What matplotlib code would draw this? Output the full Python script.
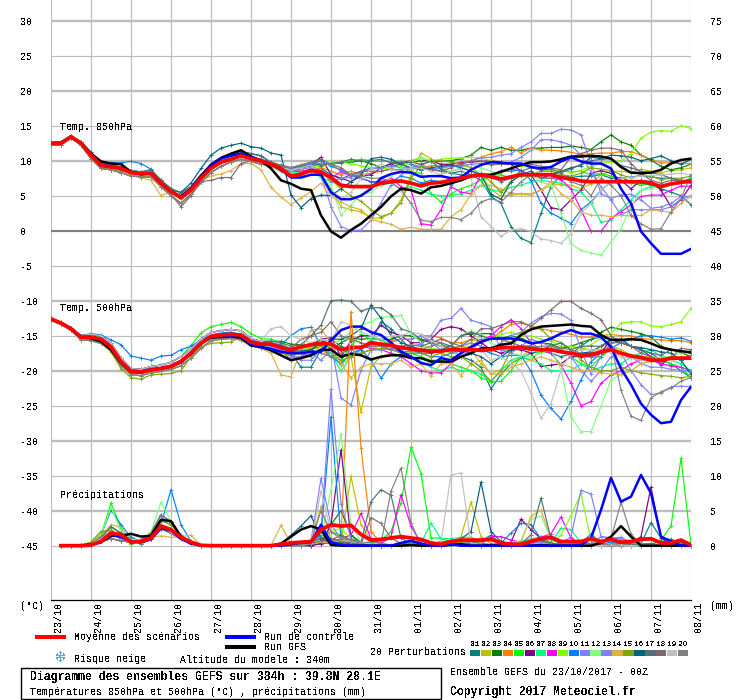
"""GEFS ensemble diagram (Meteociel style): T850, T500 and precipitation."""

import numpy as np
import matplotlib
matplotlib.use('Agg')
import matplotlib.pyplot as plt
from matplotlib.patches import Rectangle
from matplotlib.transforms import ScaledTranslation

plt.rcParams['font.family'] = ['Liberation Mono', 'DejaVu Sans']
plt.rcParams['text.antialiased'] = False

# =============================================================================
# DATA (6-hourly, index 0 = 23/10 00Z, index 64 = 08/11 00Z)
# =============================================================================

date_labels = ['23/10', '24/10', '25/10', '26/10', '27/10', '28/10', '29/10', '30/10', '31/10',
               '01/11', '02/11', '03/11', '04/11', '05/11', '06/11', '07/11', '08/11']
left_ticks = [30, 25, 20, 15, 10, 5, 0, -5, -10, -15, -20, -25, -30, -35, -40, -45]
right_ticks = [75, 70, 65, 60, 55, 50, 45, 40, 35, 30, 25, 20, 15, 10, 5, 0]
member_colors = ['#008080', '#C0C000', '#008000', '#FF8000', '#00FF00', '#800080', '#00FF80',
                 '#FF00FF', '#80FF00', '#0080FF', '#8080FF', '#80FF80', '#8080FF', '#E0B040',
                 '#80A800', '#006080', '#507078', '#806870', '#C0C0C0', '#808080']

# --- 850 hPa ---
t850_mean = [12.5, 12.5, 13.4, 12.5, 10.8, 9.3, 9.1, 8.9, 8.3, 8.1, 8.2, 6.8, 5.6, 4.7, 5.8, 7.5, 8.9, 9.8, 10.2, 10.7, 10.3, 10.0,
             9.5, 8.9, 7.8, 8.1, 8.6, 8.4, 7.6, 6.5, 6.3, 6.3, 6.3,
             6.8, 7.0, 7.1, 6.8, 6.4, 6.8, 6.9, 7.2, 7.5, 7.8, 8.0,
             7.7, 7.4, 7.7, 8.0, 8.0, 8.0, 8.0, 7.6, 7.4, 7.1, 7.0,
             7.0, 7.0, 7.0, 7.0, 7.0, 6.8, 6.3, 6.7, 6.9, 7.1]
t850_ctrl = [12.5, 12.5, 13.4, 12.5, 10.8, 9.4, 9.2, 8.9, 8.3, 8.1, 8.2, 6.8, 5.6, 4.8, 6.0, 7.8, 9.3, 10.3, 10.7, 11.0, 10.5, 10.1,
             9.5, 8.7, 7.6, 7.6, 8.0, 8.0, 5.5, 4.5, 4.5, 5.0, 6.0,
             7.5, 8.1, 8.4, 8.3, 7.7, 7.8, 7.8, 7.5, 7.6, 8.7, 9.4,
             9.8, 9.7, 9.6, 9.6, 9.1, 8.9, 9.1, 9.9, 10.5, 9.9, 9.6,
             9.6, 8.9, 6.0, 3.9, -0.1, -1.8, -3.3, -3.3, -3.3, -2.6]
t850_gfs = [12.5, 12.5, 13.4, 12.5, 11.0, 9.9, 9.6, 9.5, 8.4, 8.1, 8.2, 6.8, 5.6, 4.9, 6.0, 7.8, 9.4, 10.4, 11.0, 11.5, 10.6, 10.0,
            8.9, 7.2, 6.7, 6.0, 5.8, 2.2, -0.1, -1.0, 0.1, 1.0, 2.2,
            3.4, 4.9, 6.0, 5.8, 5.3, 6.2, 6.4, 6.8, 7.2, 7.8, 8.0,
            8.0, 8.4, 8.9, 9.4, 9.8, 9.8, 9.9, 10.2, 10.6, 10.6, 10.7,
            10.6, 10.3, 9.1, 8.3, 8.2, 8.3, 8.7, 9.6, 10.1, 10.3]

t850_early_mid = [12.5, 12.5, 13.4, 12.5, 10.8, 9.3, 9.1, 8.9, 8.3, 8.1, 8.2, 6.8, 5.6, 4.7, 5.8, 7.5, 8.9, 9.8, 10.2, 10.7, 10.3, 10.0]
t850_early_hi = [12.6, 12.7, 13.6, 12.7, 11.2, 9.7, 9.4, 9.1, 8.6, 8.4, 8.7, 7.2, 6.0, 5.4, 6.3, 8.0, 9.5, 10.4, 10.9, 11.3, 11.0, 10.7]
t850_early_lo = [12.3, 12.3, 13.3, 12.2, 10.3, 8.9, 8.7, 8.3, 7.8, 7.7, 7.7, 6.3, 5.0, 3.9, 5.2, 6.9, 8.3, 9.2, 9.8, 10.2, 9.9, 9.5]
t850_early_10 = [12.6, 12.7, 13.5, 12.5, 10.6, 9.6, 9.7, 9.7, 9.9, 9.6, 8.8, 6.9, 5.5, 4.8, 6.0, 7.8, 9.2, 10.0, 10.4, 10.8, 10.4, 10.0]
t850_early_14 = [12.7, 12.6, 13.6, 12.4, 10.7, 9.2, 9.0, 8.4, 8.0, 7.6, 7.2, 5.0, 5.6, 4.5, 5.6, 7.2, 7.8, 8.1, 8.6, 9.6, 9.6, 8.7]
t850_early_18 = [12.2, 12.2, 13.4, 12.5, 10.8, 9.2, 9.0, 8.6, 8.2, 8.0, 8.0, 6.5, 5.2, 3.4, 5.0, 7.0, 7.2, 7.6, 7.6, 9.6, 10.0, 9.8]
t850_early_16 = [12.5, 12.6, 13.4, 12.5, 10.9, 9.4, 9.2, 9.0, 8.4, 8.3, 8.4, 7.0, 5.8, 5.5, 6.8, 8.9, 10.8, 11.8, 12.2, 12.5, 12.0, 11.8]
t850_early = [t850_early_mid, t850_early_lo, t850_early_hi, t850_early_mid, t850_early_hi, t850_early_mid, t850_early_lo,
              t850_early_lo, t850_early_mid, t850_early_10, t850_early_hi, t850_early_mid, t850_early_mid, t850_early_14,
              t850_early_lo, t850_early_16, t850_early_hi, t850_early_18, t850_early_mid, t850_early_lo]

t850_late = [
    [9.6, 8.9, 8.2, 8.3, 8.5, 8.9, 8.0, 7.4, 8.0, 8.4, 9.0, 9.0, 9.6, 9.8, 9.5, 9.0, 8.8, 8.5, 8.2, 8.5, 8.0, 7.2, 4.9, 3.9, 0.6, -1.1, -1.7, 2.5, 6.3, 8.0, 7.6, 7.8, 7.8, 8.0, 7.5, 7.6, 7.0, 6.8, 6.5, 6.0, 5.5, 5.0, 3.7],
    [9.3, 8.5, 8.0, 8.2, 8.5, 7.8, 6.0, 3.4, 3.0, 2.7, 1.8, 1.8, 2.5, 4.4, 8.0, 11.1, 10.3, 9.4, 9.3, 9.0, 8.6, 8.0, 5.9, 4.9, 5.1, 5.2, 5.1, 5.8, 6.5, 6.6, 6.5, 6.0, 6.7, 8.0, 8.5, 8.5, 8.3, 8.8, 8.5, 8.3, 8.6, 8.7, 9.0],
    [9.8, 9.2, 8.8, 9.0, 9.3, 9.5, 9.5, 9.7, 9.8, 10.0, 9.6, 9.0, 9.2, 9.5, 9.8, 10.0, 10.0, 9.9, 10.0, 10.3, 10.8, 11.9, 11.5, 11.9, 11.5, 11.5, 11.8, 11.8, 11.9, 11.9, 12.1, 11.9, 11.6, 12.7, 13.7, 12.7, 12.2, 10.8, 10.1, 9.2, 8.7, 9.0, 9.5],
    [9.5, 8.9, 8.5, 8.5, 8.8, 9.0, 8.5, 8.0, 8.5, 8.0, 8.2, 8.5, 8.8, 8.6, 9.0, 9.0, 9.3, 9.3, 9.5, 9.8, 10.0, 10.5, 11.0, 11.3, 11.9, 11.1, 11.8, 11.5, 11.5, 11.4, 11.2, 10.9, 11.0, 11.1, 11.1, 11.3, 11.3, 10.8, 10.2, 9.7, 9.7, 9.6, 9.6],
    [9.7, 9.0, 8.7, 9.0, 9.5, 9.6, 9.5, 9.8, 10.0, 10.2, 10.0, 9.9, 9.9, 9.9, 8.4, 8.2, 5.3, 4.1, 5.3, 6.0, 6.5, 7.2, 7.8, 8.0, 7.5, 7.8, 7.8, 8.0, 8.0, 8.5, 8.4, 8.5, 8.0, 8.2, 7.8, 7.2, 6.8, 6.5, 6.8, 6.2, 6.5, 7.0, 6.8],
    [9.4, 8.8, 8.5, 8.8, 9.5, 10.5, 8.0, 7.5, 7.0, 7.8, 8.0, 9.0, 9.6, 9.7, 10.0, 10.2, 9.9, 9.5, 9.5, 9.7, 9.8, 9.9, 10.0, 9.8, 9.5, 8.5, 8.0, 5.8, 3.3, 3.0, 4.4, 5.8, 8.2, 8.6, 8.2, 7.2, 6.0, 7.2, 7.0, 5.8, 3.4, 4.4, 6.5],
    [9.5, 8.8, 8.3, 8.5, 8.6, 7.6, 7.0, 6.5, 6.5, 6.3, 6.5, 6.5, 6.8, 6.0, 6.3, 5.8, 5.2, 5.0, 5.0, 5.3, 5.8, 6.5, 5.8, 5.6, 6.2, 6.5, 7.0, 7.2, 7.0, 6.8, 6.0, 5.5, 4.0, 1.2, 1.5, 3.0, 4.4, 5.8, 6.3, 6.5, 6.8, 7.0, 7.5],
    [9.5, 9.0, 8.5, 8.5, 8.7, 8.0, 7.6, 8.4, 7.8, 7.5, 7.0, 7.0, 7.5, 6.3, 5.8, 1.0, 0.8, 3.0, 6.3, 5.5, 5.3, 8.0, 7.9, 8.6, 8.8, 8.5, 8.0, 7.6, 7.5, 7.3, 6.0, 3.0, -0.1, -0.1, 1.8, 2.7, 3.7, 4.9, 5.1, 5.1, 5.8, 6.4, 6.3],
    [9.6, 9.0, 8.6, 8.8, 9.1, 9.2, 9.7, 9.9, 9.5, 9.3, 9.0, 8.8, 9.0, 9.3, 10.0, 10.5, 10.0, 10.2, 10.4, 10.4, 10.5, 10.4, 10.0, 9.6, 9.5, 9.3, 9.0, 8.7, 8.5, 8.6, 8.3, 8.6, 9.2, 9.6, 9.8, 10.0, 11.0, 13.2, 14.1, 14.3, 14.2, 15.0, 14.6],
    [9.8, 9.3, 8.9, 9.2, 9.5, 10.0, 9.2, 8.7, 8.0, 7.5, 7.0, 6.5, 7.0, 7.8, 7.5, 6.8, 7.2, 7.0, 6.5, 7.5, 8.0, 8.0, 8.0, 8.5, 8.5, 8.7, 7.2, 3.9, 2.5, 1.8, 1.0, 3.0, 4.1, 5.8, 7.0, 7.5, 7.7, 7.8, 7.7, 7.5, 7.5, 7.2, 6.8],
    [9.8, 9.3, 8.8, 9.0, 9.3, 8.5, 7.0, 7.5, 7.6, 8.3, 8.8, 9.0, 9.3, 9.0, 9.0, 9.2, 8.7, 8.9, 9.2, 9.5, 10.0, 10.4, 10.5, 10.8, 11.0, 11.9, 12.7, 13.9, 13.9, 14.5, 14.4, 13.7, 9.6, 5.3, 4.6, 5.1, 5.2, 4.4, 3.2, 3.4, 3.9, 4.9, 4.9],
    [9.4, 8.7, 8.2, 8.3, 8.5, 7.5, 6.5, 2.2, 3.7, 5.2, 5.5, 6.5, 7.8, 9.0, 9.8, 10.3, 10.0, 9.0, 8.5, 9.0, 9.5, 9.0, 8.5, 7.5, 7.5, 8.0, 8.0, 7.0, 6.5, 2.5, -1.9, -2.8, -3.2, -3.5, -1.6, 0.3, 3.4, 5.8, 6.0, 6.5, 6.5, 7.0, 7.2],
    [9.7, 9.0, 8.5, 8.8, 9.0, 8.0, 3.4, 0.6, 0.0, 0.1, 1.5, 4.0, 6.5, 8.0, 9.0, 9.5, 8.8, 9.0, 9.3, 9.3, 9.5, 9.6, 9.4, 9.5, 9.8, 10.5, 11.5, 13.0, 13.0, 12.7, 12.2, 10.8, 8.4, 6.3, 4.4, 2.2, 3.0, 3.0, 3.0, 3.0, 3.4, 4.5, 5.0],
    [6.2, 4.8, 3.7, 4.7, 5.6, 6.8, 4.9, 4.1, 3.4, 3.0, 1.6, 1.3, 0.9, 0.2, 0.5, 0.2, 0.2, 0.2, 2.0, 3.0, 5.2, 6.5, 6.5, 6.0, 5.3, 5.3, 5.3, 5.8, 7.0, 5.3, 4.4, 2.7, 2.2, 2.2, 2.0, 2.2, 2.1, 2.2, 3.0, 2.8, 2.6, 3.9, 4.9],
    [9.2, 8.5, 8.0, 8.0, 8.5, 8.2, 7.3, 6.0, 5.0, 4.2, 3.0, 2.0, 2.5, 4.0, 7.5, 9.3, 10.0, 10.0, 9.8, 9.5, 9.0, 8.0, 7.0, 5.5, 7.0, 8.0, 8.0, 8.5, 8.5, 8.0, 7.8, 8.2, 9.0, 8.8, 8.6, 8.0, 7.5, 8.0, 7.8, 7.3, 7.5, 7.5, 7.8],
    [11.1, 10.8, 5.1, 3.3, 4.6, 5.1, 5.0, 6.0, 7.0, 8.0, 10.3, 10.5, 10.2, 9.5, 9.0, 8.7, 9.0, 9.2, 9.4, 9.0, 8.5, 8.0, 5.2, 4.5, 7.0, 8.0, 8.5, 7.5, 8.0, 8.5, 9.0, 9.3, 10.5, 10.3, 10.8, 10.7, 10.5, 10.0, 10.3, 10.7, 10.0, 9.5, 10.2],
    [9.6, 9.4, 9.0, 9.3, 9.7, 9.3, 9.6, 9.8, 10.2, 9.9, 10.0, 10.2, 9.7, 9.7, 9.8, 9.5, 9.9, 8.8, 8.2, 8.0, 8.0, 8.2, 7.7, 7.0, 7.5, 8.5, 9.0, 8.7, 8.8, 8.3, 8.8, 9.5, 10.0, 10.2, 10.3, 9.3, 9.0, 8.5, 8.3, 8.0, 7.5, 7.0, 7.0],
    [9.8, 9.3, 9.0, 9.4, 9.8, 10.2, 9.5, 9.0, 8.0, 8.5, 8.5, 8.5, 8.8, 8.7, 8.9, 9.0, 8.7, 8.5, 9.0, 9.5, 9.9, 10.0, 9.5, 9.5, 9.5, 9.5, 9.5, 9.2, 9.0, 8.7, 10.5, 11.0, 11.5, 11.8, 11.8, 11.5, 9.6, 8.2, 7.2, 6.8, 7.2, 7.2, 7.2],
    [9.5, 9.0, 8.7, 9.0, 9.4, 8.0, 5.0, 4.5, 5.5, 7.5, 8.8, 9.5, 8.7, 8.6, 9.0, 8.9, 8.5, 8.0, 8.5, 8.8, 7.5, 2.0, 0.6, -0.8, 0.1, 0.3, -0.1, -1.2, -1.4, -1.8, -0.4, 2.5, 3.9, 5.8, 7.0, 7.5, 7.6, 7.8, 7.9, 8.0, 8.1, 8.2, 8.0],
    [9.6, 9.2, 9.0, 9.4, 9.7, 9.6, 9.5, 8.5, 8.0, 7.8, 7.5, 7.5, 7.0, 5.8, 3.9, 1.5, 1.3, 1.9, 1.9, 1.6, 2.5, 4.1, 4.6, 4.1, 5.5, 7.0, 8.0, 7.5, 7.5, 7.8, 7.0, 6.5, 5.0, 7.5, 6.5, 5.0, 2.2, 1.0, 0.2, 0.3, 2.7, 4.6, 8.0],
]

# --- 500 hPa ---
t500_mean = [-12.6, -13.2, -14.0, -15.2, -15.2, -15.5, -16.6, -18.7, -20.1, -20.2, -19.9, -19.7, -19.4, -18.7, -17.5, -16.1, -15.1, -14.9, -14.8, -14.9, -15.9, -16.2,
             -16.2, -16.7, -17.0, -16.6, -16.3, -16.1, -16.2, -17.0, -16.7, -16.7, -16.0,
             -16.2, -16.4, -16.7, -16.9, -17.1, -17.2, -17.2, -17.0, -17.0, -17.0, -17.1,
             -17.0, -16.7, -16.7, -16.7, -16.9, -17.0, -17.0, -17.3, -17.5, -17.8, -17.7,
             -17.3, -17.0, -17.5, -17.9, -18.1, -18.5, -18.5, -18.2, -18.2, -18.2]
t500_ctrl = [-12.6, -13.2, -14.0, -15.2, -15.2, -15.5, -16.6, -18.7, -20.0, -20.1, -19.8, -19.6, -19.3, -18.6, -17.4, -16.0, -15.2, -15.1, -15.0, -15.1, -16.2, -16.6,
             -16.9, -17.3, -17.5, -17.5, -17.3, -17.3, -15.7, -14.2, -13.7, -13.7, -14.5,
             -14.9, -16.0, -17.3, -18.0, -18.9, -19.2, -18.2, -18.5, -17.5, -16.6, -15.9,
             -15.4, -15.4, -15.4, -15.6, -16.1, -15.9, -15.4, -14.7, -14.2, -14.7, -14.7,
             -15.2, -16.6, -19.7, -22.0, -24.7, -26.3, -27.5, -27.3, -24.2, -22.3]
t500_gfs = [-12.6, -13.2, -14.0, -15.2, -15.4, -15.8, -17.0, -18.9, -20.2, -20.3, -19.9, -19.7, -19.4, -18.8, -17.6, -16.1, -15.3, -15.2, -15.1, -15.3, -16.4, -16.6,
            -17.1, -17.8, -18.5, -18.2, -17.8, -17.0, -17.0, -18.0, -17.6, -17.8, -18.4,
            -18.0, -17.8, -17.8, -18.2, -18.2, -18.7, -18.7, -18.7, -18.0, -17.5, -16.8,
            -16.8, -16.3, -16.1, -14.9, -14.1, -13.7, -13.6, -13.5, -13.4, -13.6, -13.7,
            -14.9, -15.6, -15.6, -15.5, -15.6, -16.1, -16.7, -17.0, -17.2, -17.4]

t500_early_mid = [-12.6, -13.2, -14.0, -15.2, -15.2, -15.5, -16.6, -18.7, -20.1, -20.2, -19.9, -19.7, -19.4, -18.7, -17.5, -16.1, -15.1, -14.9, -14.8, -14.9, -15.9, -16.2]
t500_early_hi = [-12.5, -13.1, -13.9, -15.0, -14.8, -15.0, -16.1, -18.2, -19.7, -19.8, -19.4, -19.2, -18.8, -18.0, -16.9, -15.5, -14.5, -14.3, -14.1, -14.3, -15.4, -15.8]
t500_early_lo = [-12.8, -13.4, -14.2, -15.6, -15.7, -16.1, -17.1, -19.3, -20.6, -20.7, -20.3, -20.1, -19.8, -19.3, -18.2, -16.8, -15.7, -15.5, -15.4, -15.6, -16.4, -16.8]
t500_early_10 = [-12.6, -13.2, -14.0, -15.0, -14.7, -14.9, -15.6, -16.3, -17.9, -18.2, -18.5, -17.9, -17.8, -17.0, -16.5, -15.6, -14.9, -14.6, -14.5, -14.8, -15.6, -16.0]
t500_early_15 = [-12.7, -13.3, -14.1, -15.5, -15.7, -16.1, -17.3, -19.7, -21.0, -21.2, -20.6, -20.5, -20.4, -20.0, -18.0, -16.6, -16.1, -16.0, -15.9, -15.1, -16.2, -16.5]
t500_early_05 = [-12.6, -13.2, -14.0, -15.1, -15.0, -15.2, -16.3, -18.5, -20.0, -20.0, -19.5, -19.2, -18.8, -18.0, -16.4, -14.6, -13.7, -13.4, -13.1, -13.7, -14.7, -15.4]
t500_early = [t500_early_mid, t500_early_lo, t500_early_hi, t500_early_mid, t500_early_05, t500_early_hi, t500_early_lo,
              t500_early_hi, t500_early_mid, t500_early_10, t500_early_lo, t500_early_mid, t500_early_lo, t500_early_lo,
              t500_early_15, t500_early_mid, t500_early_hi, t500_early_mid, t500_early_hi, t500_early_lo]

t500_late = [
    [-16.5, -16.8, -17.4, -19.5, -19.5, -17.0, -15.5, -16.5, -17.5, -17.0, -16.0, -13.0, -14.0, -15.5, -17.0, -17.5, -17.5, -17.0, -17.0, -18.0, -18.5, -19.5, -22.6, -20.5, -19.0, -18.2, -17.5, -17.2, -17.5, -18.0, -17.6, -16.5, -15.5, -15.2, -15.6, -16.0, -16.5, -17.0, -17.5, -18.5, -19.0, -20.0, -21.0],
    [-16.7, -17.2, -17.5, -17.2, -16.8, -16.5, -17.5, -19.2, -18.0, -25.9, -19.4, -18.0, -17.5, -17.8, -17.0, -16.8, -17.2, -17.5, -16.8, -16.4, -17.0, -19.0, -20.5, -19.8, -19.0, -18.0, -17.0, -17.4, -17.2, -17.0, -16.5, -16.8, -17.0, -17.0, -16.5, -17.0, -17.8, -18.0, -18.0, -18.4, -18.5, -18.2, -17.8],
    [-15.8, -15.8, -16.2, -16.3, -16.2, -15.5, -17.0, -16.0, -15.3, -15.5, -15.4, -15.6, -15.5, -15.0, -15.0, -15.6, -16.0, -16.5, -16.5, -15.0, -14.7, -14.7, -14.7, -15.4, -15.0, -15.4, -16.0, -16.0, -16.2, -16.8, -16.5, -16.0, -15.5, -14.5, -13.8, -14.1, -14.4, -14.7, -15.2, -16.5, -17.0, -17.4, -18.0],
    [-16.5, -17.0, -17.5, -17.0, -16.7, -17.0, -18.0, -17.5, -18.0, -17.5, -17.0, -16.3, -15.7, -15.5, -15.5, -15.0, -15.0, -15.3, -16.0, -16.0, -15.6, -15.6, -15.5, -14.4, -13.4, -13.2, -13.6, -14.0, -14.3, -14.5, -14.8, -15.2, -15.2, -15.0, -14.8, -15.0, -15.0, -15.4, -15.5, -15.6, -15.7, -15.7, -16.0],
    [-15.5, -16.0, -17.0, -17.5, -17.0, -16.5, -17.5, -18.5, -16.5, -14.8, -15.5, -15.5, -16.5, -17.5, -17.5, -18.0, -18.5, -18.5, -19.0, -19.5, -20.0, -21.0, -21.6, -21.5, -20.0, -18.0, -18.5, -17.0, -16.5, -17.0, -18.0, -19.0, -19.5, -18.0, -17.0, -17.5, -18.0, -18.5, -18.0, -18.5, -19.0, -19.5, -21.0],
    [-16.5, -17.0, -17.3, -16.8, -16.5, -15.5, -15.3, -18.0, -15.7, -15.0, -15.0, -13.5, -14.5, -15.0, -16.0, -16.0, -15.5, -14.1, -13.7, -14.0, -15.0, -16.0, -17.0, -17.5, -17.0, -17.0, -17.5, -19.4, -19.2, -19.0, -18.0, -18.0, -18.0, -17.5, -15.5, -16.0, -16.5, -17.0, -18.0, -19.2, -18.0, -18.5, -18.0],
    [-16.2, -16.5, -17.0, -17.5, -18.0, -17.0, -17.5, -20.1, -18.0, -17.0, -15.5, -15.5, -16.5, -17.0, -18.0, -18.7, -19.5, -20.0, -19.5, -20.0, -20.0, -20.5, -21.5, -20.0, -18.5, -18.0, -18.5, -19.0, -20.0, -20.0, -20.0, -19.0, -20.0, -19.5, -19.0, -19.0, -18.0, -17.5, -17.0, -18.0, -18.5, -19.0, -20.0],
    [-16.5, -17.0, -18.5, -18.0, -17.0, -16.3, -16.7, -17.0, -16.5, -16.5, -16.8, -17.0, -17.5, -18.0, -19.0, -20.0, -20.3, -20.3, -19.0, -18.0, -17.0, -15.8, -15.0, -13.7, -12.7, -14.0, -16.0, -17.0, -17.5, -19.2, -21.8, -25.0, -24.4, -21.8, -20.6, -20.0, -19.0, -18.5, -18.5, -19.0, -19.3, -19.5, -20.0],
    [-16.5, -17.0, -17.5, -17.2, -16.6, -16.5, -16.5, -15.5, -15.5, -16.0, -16.5, -17.0, -16.5, -16.5, -17.0, -16.5, -16.8, -17.0, -17.5, -17.0, -16.0, -15.0, -15.5, -14.8, -14.5, -15.0, -15.0, -15.5, -15.8, -16.5, -16.5, -16.8, -16.3, -15.4, -14.7, -13.2, -13.0, -13.0, -13.6, -13.7, -13.4, -13.0, -11.1],
    [-16.0, -16.3, -15.0, -14.0, -13.8, -16.5, -18.0, -19.0, -17.5, -17.0, -18.5, -21.1, -19.0, -18.0, -17.5, -17.5, -18.0, -18.0, -17.5, -17.2, -17.0, -17.0, -17.5, -18.0, -17.8, -17.8, -20.1, -23.5, -25.4, -26.9, -24.4, -21.3, -18.7, -17.5, -16.8, -16.0, -15.5, -15.0, -15.0, -15.2, -15.5, -15.3, -15.8],
    [-16.7, -17.0, -18.0, -18.0, -17.5, -18.5, -17.0, -17.0, -17.5, -17.5, -17.0, -17.0, -16.0, -15.5, -15.5, -15.0, -16.0, -17.0, -17.0, -16.5, -16.0, -16.5, -17.0, -16.0, -15.0, -14.5, -13.2, -12.3, -11.8, -11.9, -12.8, -17.0, -20.5, -18.0, -16.5, -17.5, -20.0, -22.0, -23.4, -23.2, -22.3, -22.2, -22.3],
    [-16.0, -16.5, -17.0, -17.0, -16.5, -16.0, -16.5, -15.5, -14.5, -13.5, -13.0, -12.3, -12.3, -12.1, -14.7, -16.0, -17.0, -17.0, -16.5, -15.0, -14.3, -14.8, -16.0, -16.8, -17.5, -17.8, -18.0, -17.5, -17.0, -19.9, -26.6, -28.7, -28.7, -25.1, -21.3, -20.6, -20.0, -19.0, -18.5, -18.0, -18.0, -17.5, -17.0],
    [-16.5, -17.0, -17.5, -18.5, -18.5, -17.0, -16.0, -23.9, -24.9, -19.9, -17.0, -17.0, -16.8, -17.0, -16.5, -16.2, -15.0, -12.8, -12.5, -11.1, -12.8, -13.2, -13.7, -17.0, -17.5, -16.5, -15.5, -16.0, -16.5, -17.0, -18.0, -20.0, -21.5, -20.0, -18.0, -17.5, -18.0, -19.0, -19.5, -19.5, -19.8, -20.0, -20.0],
    [-17.5, -20.6, -20.9, -17.0, -14.2, -14.0, -16.0, -19.0, -21.0, -19.5, -19.0, -19.0, -19.0, -18.5, -19.5, -19.0, -20.8, -19.0, -19.0, -20.7, -19.0, -18.5, -20.5, -20.5, -19.5, -19.0, -18.5, -18.0, -18.5, -19.0, -19.5, -20.0, -20.0, -20.3, -20.5, -20.5, -20.0, -19.0, -18.7, -18.5, -18.5, -18.3, -18.0],
    [-17.0, -17.5, -17.8, -17.5, -17.0, -16.5, -18.0, -18.5, -18.0, -17.5, -17.0, -16.8, -17.0, -17.5, -17.5, -17.5, -18.0, -17.5, -18.0, -18.0, -19.0, -20.0, -21.5, -20.0, -17.0, -14.5, -14.0, -14.0, -15.5, -16.0, -17.0, -18.5, -19.5, -20.0, -20.0, -19.5, -20.0, -20.3, -20.5, -20.7, -20.8, -21.0, -20.8],
    [-16.3, -16.4, -17.2, -17.2, -17.0, -16.0, -15.5, -15.5, -15.0, -14.0, -10.6, -12.5, -15.0, -16.0, -16.5, -17.0, -17.5, -17.0, -16.5, -17.0, -17.5, -18.0, -19.0, -18.0, -17.0, -16.5, -16.5, -17.0, -17.0, -17.2, -17.5, -17.5, -17.3, -16.5, -15.5, -15.5, -16.5, -16.7, -17.0, -17.3, -17.5, -18.5, -20.5],
    [-15.8, -16.0, -16.5, -16.3, -15.0, -13.5, -10.0, -9.9, -10.1, -11.5, -11.0, -11.0, -12.0, -14.0, -14.5, -15.5, -15.7, -16.0, -16.5, -15.0, -14.5, -15.0, -15.5, -15.5, -16.0, -16.5, -16.5, -17.0, -16.5, -16.0, -17.0, -16.5, -16.5, -16.5, -16.0, -16.0, -16.5, -17.0, -17.5, -17.8, -17.0, -17.2, -17.5],
    [-16.0, -16.5, -16.8, -15.5, -15.0, -14.5, -13.0, -15.0, -15.5, -16.0, -16.5, -16.5, -17.0, -16.5, -16.3, -16.5, -16.0, -15.5, -16.0, -16.5, -15.5, -14.0, -14.0, -13.5, -13.0, -13.0, -13.7, -12.5, -11.3, -10.1, -10.1, -11.1, -11.8, -12.7, -15.0, -16.0, -16.5, -17.5, -18.0, -18.8, -18.2, -16.8, -17.0],
    [-14.0, -13.7, -15.0, -15.5, -16.0, -15.5, -15.8, -13.0, -13.5, -14.5, -15.0, -15.5, -15.0, -15.0, -14.5, -14.8, -15.7, -16.5, -17.0, -18.0, -16.5, -17.0, -18.5, -18.0, -19.0, -20.0, -23.2, -26.8, -24.7, -19.9, -17.5, -17.0, -17.0, -17.0, -17.5, -18.0, -18.2, -18.5, -18.5, -18.5, -18.5, -18.2, -18.0],
    [-16.8, -17.2, -17.7, -17.5, -17.2, -17.5, -18.0, -17.5, -17.0, -16.5, -16.5, -16.5, -17.0, -17.3, -17.2, -17.0, -16.5, -16.0, -17.5, -17.0, -16.5, -15.5, -15.5, -15.5, -16.0, -16.5, -16.7, -16.5, -16.5, -16.8, -17.0, -17.5, -18.0, -18.0, -16.0, -22.8, -26.5, -27.1, -23.9, -23.0, -22.5, -21.5, -21.0],
]

# --- precipitation (mm), index 1..64 ---
precip_mean = [0, 0, 0, 0.1, 0.6, 1.8, 1.6, 0.5, 0.6, 1.1, 2.8, 2.3, 1.2, 0.5,
               0.05, 0, 0, 0, 0, 0, 0, 0,
               0.2, 0.4, 0.5, 0.6, 2.3, 3.0, 2.8, 2.9, 1.6, 0.8,
               0.9, 1.1, 1.3, 1.1, 0.9, 0.4, 0.2, 0.6, 0.8, 0.8, 0.8,
               0.9, 0.4, 0.2, 0.2, 0.6, 1.0, 1.2, 0.6, 0.6, 0.6, 1.0,
               0.6, 0.9, 0.5, 0.6, 0.9, 1.0, 0.4, 0.4, 0.8, 0.1]
precip_ctrl = [0, 0, 0, 0.1, 0.5, 1.6, 1.2, 0.6, 0.5, 0.9, 2.5, 2.2, 1.0, 0.3,
               0, 0, 0, 0, 0, 0, 0, 0,
               0, 0.2, 0.4, 0.5, 3.0, 0.5, 0.1, 0, 0, 0,
               0, 0, 0.4, 0.7, 0.3, 0, 0, 0.2, 0, 0, 0,
               0, 0, 0, 0, 0, 0, 0, 0, 0, 0.1, 1.1,
               5.1, 9.7, 6.3, 7.0, 10.1, 7.5, 1.3, 0.6, 0, 0]
precip_gfs = [0, 0, 0, 0.2, 0.5, 1.4, 1.4, 1.7, 1.3, 1.4, 3.7, 3.5, 1.3, 0.4,
              0, 0, 0, 0, 0, 0, 0, 0,
              0.3, 1.3, 2.3, 2.8, 2.3, 0.1, 0, 0, 0, 0,
              0, 0, 0, 0.1, 0, 0, 0, 0.1, 0.2, 0, 0,
              0.1, 0, 0, 0, 0, 0.1, 0, 0, 0, 0, 0,
              0.4, 1.3, 2.8, 1.3, 0, 0, 0, 0, 0, 0]

precip_early_a = [0, 0, 0, 0.3, 1.0, 2.0, 1.0, 0.5, 0.5, 1.5, 3.0, 2.0, 1.0, 0.3]
precip_early_b = [0, 0, 0, 0.5, 2.0, 2.2, 1.2, 0.3, 0.7, 1.3, 3.6, 3.0, 1.5, 0.5]
precip_early_c = [0, 0, 0.1, 0.3, 1.2, 2.7, 1.8, 0.8, 0.3, 1.0, 2.4, 1.8, 0.9, 0.3]
precip_early_d = [0, 0, 0, 0.1, 0.6, 1.0, 0.7, 0.5, 0.8, 1.8, 4.4, 3.4, 1.2, 0.5]
precip_early_05 = [0, 0, 0, 0.3, 1.5, 6.1, 2.5, 0.8, 0.4, 1.0, 2.5, 2.0, 1.0, 0.2]
precip_early_10 = [0, 0, 0, 0.3, 1.5, 5.1, 3.0, 1.2, 0.6, 1.5, 3.0, 8.0, 3.0, 0.6]
precip_early_12 = [0, 0, 0, 0.2, 1.5, 5.5, 2.0, 0.8, 0.8, 2.0, 6.2, 3.5, 1.4, 0.4]
precip_early_14 = [0, 0, 0, 0.5, 1.4, 3.0, 2.6, 0.6, 0.5, 1.2, 1.4, 1.2, 1.3, 1.5]
precip_early = [precip_early_a, precip_early_b, precip_early_c, precip_early_a, precip_early_05, precip_early_d, precip_early_b,
                precip_early_a, precip_early_c, precip_early_10, precip_early_d, precip_early_12, precip_early_c, precip_early_14,
                precip_early_b, precip_early_a, precip_early_c, precip_early_d, precip_early_a, precip_early_d]
precip_dry = [0, 0, 0, 0, 0, 0, 0, 0]

# index 23..64
precip_late = [
    [0, 0, 0, 0, 0.3, 0.4, 1.0, 1.5, 0.3, 0.1, 0, 0, 0, 0, 0, 0, 0.5, 0.4, 0.4, 1.0, 0.7, 1.5, 0.3, 0.3, 0.3, 0.6, 0.4, 0.3, 0.3, 0.2, 0.3, 1.7, 0.3, 0.3, 0.2, 0.2, 0.3, 3.3, 1.1, 0.9, 0.4, 0],
    [0, 0, 0, 0.5, 5.6, 1.0, 0.5, 9.9, 3.0, 0.8, 0.2, 0.1, 0, 0, 0, 0, 0, 0.2, 1.3, 6.2, 1.3, 0.3, 0.1, 0, 0.2, 0.3, 0.5, 0.2, 0, 0.2, 0, 0, 0.2, 0.1, 0, 0.1, 0.2, 0, 0.2, 0.2, 0.3, 0],
    [0, 0, 0, 0.3, 2.0, 3.0, 5.0, 1.5, 0.5, 0.2, 0, 0, 0.1, 0.3, 0.1, 0, 0, 0.3, 0.2, 0.5, 0.3, 0.1, 0, 0, 0.3, 0.5, 0.8, 0.3, 0, 0.2, 0.4, 0.2, 0.1, 0, 0.2, 0.3, 0, 0.3, 0, 0, 0.2, 0],
    [0, 0, 0, 0.2, 0.6, 0.4, 1.0, 33.4, 14.0, 2.0, 0.4, 0.1, 0, 0, 0.2, 0, 0, 0.4, 0.3, 0.8, 0.3, 0, 0, 0, 0.3, 1.0, 1.2, 0.5, 0, 0, 0.1, 0.2, 0, 0, 0.1, 0.3, 0, 0, 0, 0, 0.2, 0],
    [0, 0, 0, 0.5, 1.0, 0.4, 0.3, 0.6, 0.2, 0.5, 0.8, 2.0, 6.1, 14.1, 10.3, 1.1, 1.1, 0.4, 0.2, 0.3, 0.2, 0, 0.1, 0, 0.2, 0.4, 0.3, 0.2, 0.1, 0.2, 0.3, 0.2, 0, 0.3, 0.2, 0.1, 0, 0.2, 0.8, 2.8, 12.5, 0.1],
    [0, 0, 0, 0, 0.3, 3.0, 13.7, 1.0, 0.3, 0.1, 0, 0, 0.2, 0, 0, 0, 0, 0.3, 0.2, 0.2, 0, 0, 0, 0.5, 3.8, 2.3, 1.0, 0.2, 0, 0, 0.2, 0.2, 0, 0, 0.1, 0.3, 1.3, 8.4, 1.1, 0.2, 0.3, 0],
    [0, 0, 0, 0.3, 0.6, 1.0, 0.8, 0.5, 0.3, 0.2, 0, 0, 0.2, 0.4, 0.4, 3.2, 1.0, 1.0, 1.2, 1.2, 0.4, 0.1, 0, 0.2, 0.5, 1.0, 0.5, 0.4, 2.5, 2.3, 0.4, 0.3, 0.1, 0, 0.2, 0.1, 0.2, 0, 0.1, 0.2, 0, 0],
    [0, 0, 0, 0.2, 0.7, 0.5, 1.0, 1.5, 4.6, 1.0, 0.3, 1.3, 7.3, 2.8, 0.3, 0, 0.2, 0.4, 0.3, 0.5, 0.2, 1.3, 1.3, 0.8, 0.5, 0.6, 1.2, 1.7, 4.1, 1.1, 0.2, 0, 0.2, 0, 0, 0.2, 0.3, 0, 0, 0.1, 0.2, 0],
    [0, 0, 0.2, 0.4, 1.0, 2.0, 2.5, 1.0, 0.5, 0.1, 0, 0, 0.2, 0.3, 0, 0, 0.2, 0.3, 0.4, 0.3, 0.2, 0, 0, 0.1, 0.3, 0.5, 0.2, 0.1, 1.5, 4.3, 7.5, 0.7, 0.3, 0, 0.1, 0.2, 0.3, 0, 0.1, 0.1, 0.2, 0],
    [0, 0, 0, 0.6, 1.5, 18.4, 1.0, 0.5, 0.5, 0.3, 0.1, 0, 0, 0.2, 0.7, 0.2, 0.6, 0.4, 0.3, 0.2, 0.2, 0.1, 0.4, 1.8, 3.2, 3.0, 1.0, 0.3, 0.1, 0, 0.2, 0.3, 0.2, 0.5, 0.3, 0, 0, 0.2, 0.1, 0, 0.2, 0],
    [0, 0, 0, 0.8, 2.0, 22.4, 6.0, 1.0, 0.5, 0.2, 0, 0, 0.1, 0.2, 0, 0.1, 0.4, 0.8, 0.4, 0.3, 0.2, 0, 0, 0.3, 0.4, 0.4, 0.5, 0.2, 0.3, 1.3, 7.9, 7.4, 1.3, 1.1, 1.2, 0.5, 0.2, 0.1, 0, 0.2, 0.1, 0],
    [0, 0, 0, 0.5, 1.0, 8.0, 16.0, 3.0, 0.5, 0.2, 0, 0.1, 0.2, 0, 0.3, 0.2, 0, 0.4, 0.3, 0.4, 0.3, 0, 0, 0.2, 0.8, 3.8, 4.2, 1.0, 0.4, 0.5, 0.3, 0.2, 0.1, 0.3, 0.1, 0, 0.2, 0.3, 0, 0.1, 0.1, 0],
    [0, 0, 0, 0.7, 9.6, 3.0, 1.0, 0.6, 0.3, 0.1, 0, 0, 0.2, 0, 0, 0.2, 0.5, 0.4, 0.2, 0.3, 0.2, 0, 0.1, 0.2, 0.3, 0.4, 0.5, 0.2, 0, 0.2, 0.4, 0.3, 1.3, 1.1, 1.0, 0.3, 0.2, 0, 0, 0.2, 0.1, 0],
    [2.9, 0.3, 0.2, 0.3, 0.6, 0.5, 0.8, 0.6, 0.4, 0.2, 0, 0, 0, 0.1, 0, 0.2, 0.3, 0.3, 0.4, 1.1, 0.4, 0.1, 0, 0.2, 0.6, 4.2, 5.1, 1.0, 0.3, 0.1, 0.2, 0.3, 0.2, 0.1, 0, 0.2, 0.1, 0, 0.2, 0, 0.1, 0],
    [0, 0, 0.3, 0.6, 1.0, 2.0, 1.5, 0.5, 0.2, 0, 0, 0, 0.1, 0.2, 0, 0, 0.2, 0.2, 0.5, 0.7, 0.3, 0.1, 0, 0.1, 0.4, 0.8, 0.7, 0.2, 0.1, 0.2, 0.2, 0.1, 0, 0.2, 0.1, 0.1, 0, 0.2, 0, 0.1, 0.2, 0],
    [0.2, 1.5, 2.8, 4.3, 1.0, 0.5, 0.4, 0.3, 0.2, 0, 0, 0, 0.1, 0.6, 0.2, 0, 0.3, 0.5, 1.0, 2.0, 9.1, 2.0, 0.6, 0.2, 0.3, 0.6, 0.8, 0.3, 0.1, 0.2, 0.4, 0.3, 0, 0.2, 0.2, 0, 0.2, 0.3, 0.1, 0.6, 0.6, 0],
    [0, 0, 0, 0.4, 1.2, 0.8, 1.5, 0.8, 0.5, 6.3, 8.0, 7.2, 1.1, 0.2, 0, 0.1, 0.2, 0.3, 0.2, 0.4, 0.3, 0.1, 0, 0.2, 0.3, 1.5, 6.8, 1.0, 0.2, 0.1, 0.3, 1.0, 0.3, 0, 0.1, 0.2, 0, 0.1, 0, 0, 0.1, 0],
    [0, 0, 0, 0.3, 0.7, 1.0, 0.6, 0.4, 0.2, 4.0, 3.2, 1.1, 0.3, 0.1, 0, 0, 0.1, 0.3, 0.2, 0.2, 0.1, 0, 0, 0.2, 0.4, 0.3, 0.2, 0.1, 0.2, 0.1, 0.1, 0.2, 0.2, 0.1, 0, 0, 0.1, 0.2, 0.1, 0, 0.2, 0],
    [0, 0, 0, 0.4, 7.8, 2.0, 1.0, 0.6, 0.4, 0.2, 0.1, 0, 0, 0.2, 0, 0.2, 0.5, 10.1, 10.4, 0.3, 0.2, 0, 0, 0.1, 0.2, 0.2, 0.3, 0.1, 0, 0.1, 0.2, 0.1, 0, 0.1, 0.1, 0, 0.1, 0.1, 0, 0, 0.1, 0],
    [0, 0, 0, 0.5, 5.0, 2.0, 1.0, 0.8, 0.3, 0.6, 0.3, 7.8, 11.1, 3.2, 0.2, 0, 0.1, 0.2, 0.2, 0.1, 0.1, 0, 0, 0.1, 0.3, 0.8, 1.0, 0.2, 0.1, 0.3, 0.5, 0.3, 0.5, 1.0, 6.2, 1.6, 0.3, 0.2, 0.1, 0, 0.1, 0],
]

# =============================================================================
# PLOTTING
# =============================================================================

WIDTH, HEIGHT = 740, 700
hours = np.arange(65) * 6
day_hours = np.arange(17) * 24
precip_hours = hours[1:]

fig = plt.figure(figsize=(WIDTH / 100, HEIGHT / 100), dpi=100, facecolor='white')

# y = 230.7 - 7 * value in pixels, so 0..600 px gives the limits below
ax = fig.add_axes([51 / WIDTH, 1 - 600 / HEIGHT, 640 / WIDTH, 600 / HEIGHT])
ax.set_xlim(0, 384)
ax.set_ylim(-52.76, 32.96)
ax2 = ax.twinx()
ax2.set_ylim(-52.76 + 45, 32.96 + 45)

for spine in ['top', 'left', 'right']:
    ax.spines[spine].set_visible(False)
    ax2.spines[spine].set_visible(False)
ax.spines['bottom'].set_linewidth(0.9)
ax2.spines['bottom'].set_visible(False)

GRID = '#BDBDBD'
for h in day_hours:
    ax.axvline(h, color=GRID, lw=0.85, zorder=1)
for v in left_ticks:
    ax.plot([0, 384], [v, v], color=GRID, lw=1.7 if v % 10 == 0 and v != 0 else 0.85, zorder=1, solid_capstyle='butt')
ax.axhline(0, color='#808080', lw=1.5, zorder=1.5)


def draw_members(axis, x, series):
    for color, values in zip(member_colors, series):
        axis.plot(x, values, color=color, lw=0.85, marker='+', ms=2.6, mew=0.6, zorder=3)


draw_members(ax, hours, [e + l for e, l in zip(t850_early, t850_late)])
draw_members(ax, hours, [e + l for e, l in zip(t500_early, t500_late)])
draw_members(ax2, precip_hours, [e + precip_dry + l for e, l in zip(precip_early, precip_late)])

for axis, x, gfs, ctrl, mean in [(ax, hours, t850_gfs, t850_ctrl, t850_mean),
                                 (ax, hours, t500_gfs, t500_ctrl, t500_mean),
                                 (ax2, precip_hours, precip_gfs, precip_ctrl, precip_mean)]:
    axis.plot(x, gfs, color='black', lw=1.8, zorder=4)
    axis.plot(x, ctrl, color='#0000FF', lw=1.8, zorder=5)
    axis.plot(x, mean, color='#FF0000', lw=2.7, zorder=6)

# ticks
ax.set_xticks(day_hours, date_labels, rotation=90, ha='left', va='top', fontsize=7.2)
ax.tick_params(axis='x', length=0, pad=1.5)
for lb in ax.get_xticklabels():
    lb.set_transform(lb.get_transform() + ScaledTranslation(2 / 100, 0, fig.dpi_scale_trans))
ax.set_yticks(left_ticks, [str(v) for v in left_ticks], ha='left', fontsize=7.2)
ax.tick_params(axis='y', length=0, pad=22.3)
ax2.set_yticks(right_ticks, [str(v) for v in right_ticks], fontsize=7.2)
ax2.tick_params(axis='y', length=0, pad=13.7)

# pixel overlay for legend, titles and the frame
over = fig.add_axes([0, 0, 1, 1], zorder=10)
over.set_xlim(0, WIDTH)
over.set_ylim(HEIGHT, 0)
over.axis('off')


def label(x, y, text, size=7.2, weight='normal', **kw):
    over.text(x, y, text, fontsize=size, fontweight=weight, va='center', ha=kw.pop('ha', 'left'), **kw)


label(60, 127, 'Temp. 850hPa')
label(60, 308, 'Temp. 500hPa')
label(60, 495, 'Précipitations')
label(20, 606, '(°C)')
label(710, 606, '(mm)')

over.plot([35, 66], [637, 637], color='#FF0000', lw=2.9, solid_capstyle='butt')
label(74, 637, 'Moyenne des scénarios')
over.plot([225, 256], [637, 637], color='#0000FF', lw=2.9, solid_capstyle='butt')
label(264, 637, 'Run de contrôle')
over.plot([225, 256], [647, 647], color='black', lw=2.9, solid_capstyle='butt')
label(264, 647, 'Run GFS')
over.text(60, 657.5, '❄', fontsize=11, color='#58A8E0', family='DejaVu Sans', ha='center', va='center')
label(74, 659, 'Risque neige')
label(180, 660, 'Altitude du modele : 340m')
label(370, 652, '20 Perturbations')

for i, color in enumerate(member_colors):
    sx = 470 + i * 10.95
    over.add_patch(Rectangle((sx, 650), 10.3, 6, facecolor=color, edgecolor='none'))
    label(sx + 5.2, 644, f'{i + 1:02d}', size=5.6, ha='center')

over.add_patch(Rectangle((20.5, 667.5), 420, 31.5, facecolor='white', edgecolor='black', lw=1.0))
label(30, 677, 'Diagramme des ensembles GEFS sur 384h : 39.8N 28.1E', size=8.3, weight='bold')
label(30, 692, 'Températures 850hPa et 500hPa (°C) , précipitations (mm)')
label(450, 672, 'Ensemble GEFS du 23/10/2017 - 00Z')
label(450, 692, 'Copyright 2017 Meteociel.fr', size=8.3, weight='bold')

fig.savefig('out.png', dpi=100, facecolor='white')
